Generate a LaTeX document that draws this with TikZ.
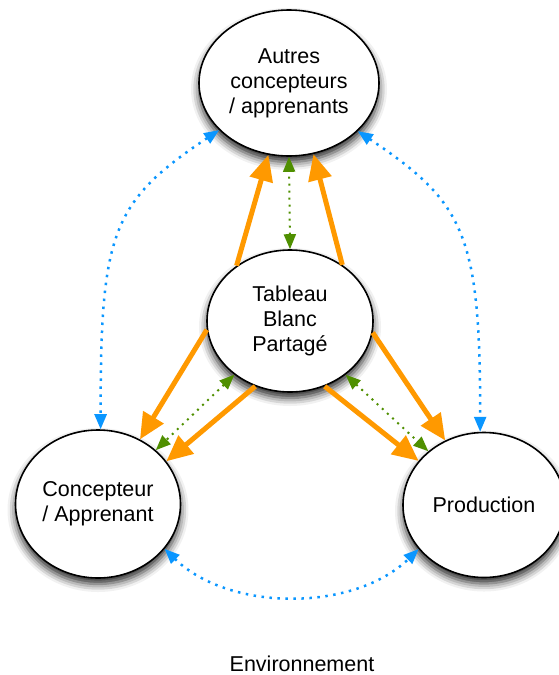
\documentclass[tikz,border=0pt]{standalone}
\usepackage{fontspec}
\setmainfont{Liberation Sans}
\usetikzlibrary{arrows.meta,shapes.geometric,shadows.blur}
\definecolor{orng}{HTML}{FF9900}
\definecolor{aqua}{HTML}{0A96FF}
\definecolor{fern}{HTML}{4F8F00}
\begin{document}
\begin{tikzpicture}[x=1pt,y=-1pt,
  bubble/.style={ellipse, draw=black, line width=1.6pt, fill=white, inner sep=0pt,
    align=center, font=\fontsize{21.5}{25}\selectfont,
    blur shadow={shadow xshift=0pt, shadow yshift=-6pt, shadow blur radius=8pt, shadow opacity=85}},
  flow/.style={draw=orng, line width=5pt, -{Triangle[length=26pt,width=23pt]}},
  link/.style={draw=fern, line width=2pt, dash pattern=on 2pt off 5pt,
    {Triangle[length=15pt,width=12pt]}-{Triangle[length=15pt,width=12pt]}},
  envl/.style={draw=aqua, line width=2.5pt, dash pattern=on 2.5pt off 5.5pt,
    {Triangle[length=15pt,width=12pt]}-{Triangle[length=15pt,width=12pt]}},
  lbl/.style={font=\fontsize{21.5}{25}\selectfont, inner sep=0pt}
]
\useasboundingbox (0,0) rectangle (558,675);

\node[bubble, minimum width=180pt, minimum height=146pt] (top) at (289,83) {Autres\\concepteurs\\/ apprenants};
\node[bubble, minimum width=166pt, minimum height=142pt] (mid) at (290,321) {Tableau\\Blanc\\Partagé};
\node[bubble, minimum width=165pt, minimum height=148pt] (left) at (98,504) {Concepteur\\/ Apprenant};
\node[bubble, minimum width=162pt, minimum height=145pt] (right) at (484,505) {Production};
\node[lbl] (env) at (302,664) {Environnement};

\draw[flow] (mid.134) -- (top.254);
\draw[flow] (mid.47) -- (top.289);
\draw[flow] (mid.186) -- (left.57);
\draw[flow] (mid.242) -- (left.32);
\draw[flow] (mid.352) -- (right.121);
\draw[flow] (mid.298) -- (right.146);

\draw[link] (mid.90) -- (top.270);
\draw[link] (mid.224) -- (left.43);
\draw[link] (mid.316) -- (right.136);

\draw[envl] (top.214) .. controls +(-108,72) and +(0,-196) .. (left.88);
\draw[envl] (top.325) .. controls +(108,72) and +(0,-196) .. (right.93);
\draw[envl] (left.326) .. controls +(65,63) and +(-65,63) .. (right.214);
\end{tikzpicture}
\end{document}
